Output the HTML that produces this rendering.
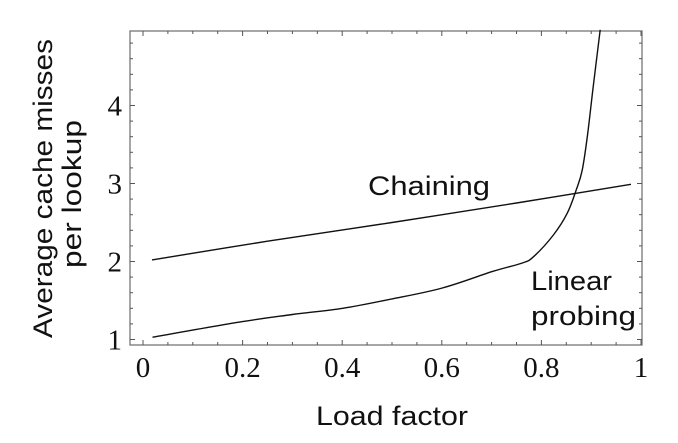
<!DOCTYPE html>
<html><head><meta charset="utf-8"><style>
html,body{margin:0;padding:0;background:#fff;}
svg{display:block;}
</style></head><body>
<svg id="chart" width="678" height="443" viewBox="0 0 678 443" xmlns="http://www.w3.org/2000/svg">
<g id="axes"></g>
<g id="series"></g>
<text x="368" y="195" font-family="Liberation Sans, sans-serif" font-size="27" textLength="122" lengthAdjust="spacingAndGlyphs" fill="#111">Chaining</text>
<text x="531" y="290" font-family="Liberation Sans, sans-serif" font-size="27" textLength="81" lengthAdjust="spacingAndGlyphs" fill="#111">Linear</text>
<text x="531" y="325" font-family="Liberation Sans, sans-serif" font-size="27" textLength="105" lengthAdjust="spacingAndGlyphs" fill="#111">probing</text>
<text x="316" y="425" font-family="Liberation Sans, sans-serif" font-size="27" textLength="152" lengthAdjust="spacingAndGlyphs" fill="#111">Load factor</text>
<text transform="translate(52,338) rotate(-90)" x="0" y="0" font-family="Liberation Sans, sans-serif" font-size="27" textLength="299" lengthAdjust="spacingAndGlyphs" fill="#111">Average cache misses</text>
<text transform="translate(81,268) rotate(-90)" x="0" y="0" font-family="Liberation Sans, sans-serif" font-size="27" textLength="148" lengthAdjust="spacingAndGlyphs" fill="#111">per lookup</text>
</svg>
<script>
var xTicks = [0, 0.2, 0.4, 0.6, 0.8, 1];
var xTickLabels = ["0", "0.2", "0.4", "0.6", "0.8", "1"];
var yTicks = [1, 2, 3, 4];
var yTickLabels = ["1", "2", "3", "4"];
var chainX = [0.018, 0.25, 0.5, 0.75, 0.98];
var chainY = [2.02, 2.26, 2.50, 2.75, 2.99];
var probeX = [0.019, 0.2, 0.3, 0.401, 0.5, 0.601, 0.701, 0.761, 0.784, 0.824, 0.852, 0.870, 0.882, 0.893, 0.904, 0.918];
var probeY = [1.03, 1.23, 1.32, 1.40, 1.52, 1.66, 1.87, 1.98, 2.06, 2.34, 2.62, 2.92, 3.17, 3.64, 4.24, 4.97];

var NS = "http://www.w3.org/2000/svg";
var L = 130, R = 642, T = 31, B = 345;
function sx(v){ return 143 + v * 498; }
function sy(v){ return 339.5 - (v - 1) * 78; }
function mk(tag, attrs, parent){
  var e = document.createElementNS(NS, tag);
  for (var k in attrs) e.setAttribute(k, attrs[k]);
  parent.appendChild(e);
  return e;
}
var axes = document.getElementById("axes");
var frame = mk("rect", {x:L, y:T, width:R-L, height:B-T, fill:"none", stroke:"#777", "stroke-width":1.3}, axes);


for (var i = 0; i <= 20; i++) {
  var v = i * 0.05, x = sx(v);
  if (x > R) break;
  var len = (i % 4 === 0) ? 5 : 3;
  var t1 = mk("line", {x1:x, x2:x, y1:B, y2:B-len, stroke:"#555", "stroke-width":1}, axes);
  
  
  var t2 = mk("line", {x1:x, x2:x, y1:T, y2:T+len, stroke:"#555", "stroke-width":1}, axes);
  
  
}
for (var j = 0; j <= 20; j++) {
  var vy = 1 + j * 0.2, y = sy(vy);
  if (y < T) break;
  var ylen = (j % 5 === 0) ? 5 : 3;
  var t3 = mk("line", {x1:L, x2:L+ylen, y1:y, y2:y, stroke:"#555", "stroke-width":1}, axes);
  
  
  var t4 = mk("line", {x1:R, x2:R-ylen, y1:y, y2:y, stroke:"#555", "stroke-width":1}, axes);
  
  
}
xTicks.forEach(function(v, i){
  var t = mk("text", {x:sx(v), y:377, "text-anchor":"middle", "font-family":"Liberation Serif, serif", "font-size":29, fill:"#111"}, axes);
  t.textContent = xTickLabels[i];
  
  
});
yTicks.forEach(function(v, i){
  var t = mk("text", {x:122, y:sy(v)+10, "text-anchor":"end", "font-family":"Liberation Serif, serif", "font-size":29, fill:"#111"}, axes);
  t.textContent = yTickLabels[i];
  
  
});
var series = document.getElementById("series");
function smoothPath(xs, ys){
  var P = xs.map(function(x, i){ return [sx(x), sy(ys[i])]; });
  var d = "M" + P[0][0].toFixed(1) + "," + P[0][1].toFixed(1);
  for (var i = 0; i < P.length - 1; i++) {
    var p0 = P[i-1] || P[i], p1 = P[i], p2 = P[i+1], p3 = P[i+2] || P[i+1];
    var c1x = p1[0] + (p2[0]-p0[0])/6, c1y = p1[1] + (p2[1]-p0[1])/6;
    var c2x = p2[0] - (p3[0]-p1[0])/6, c2y = p2[1] - (p3[1]-p1[1])/6;
    d += " C" + c1x.toFixed(1) + "," + c1y.toFixed(1) + " " + c2x.toFixed(1) + "," + c2y.toFixed(1) + " " + p2[0].toFixed(1) + "," + p2[1].toFixed(1);
  }
  return d;
}
var p1 = mk("path", {d:smoothPath(chainX, chainY), fill:"none", stroke:"#111", "stroke-width":1.4}, series);


var p2 = mk("path", {d:smoothPath(probeX, probeY), fill:"none", stroke:"#111", "stroke-width":1.4, "stroke-linejoin":"round"}, series);


</script>
</body></html>
